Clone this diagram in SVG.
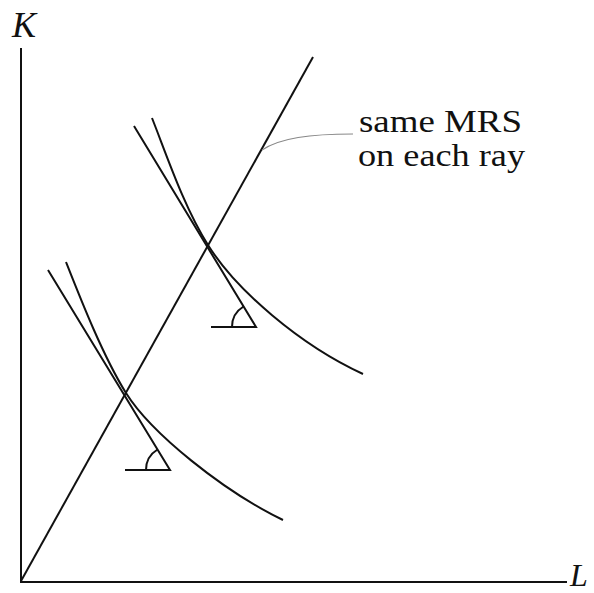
<svg xmlns="http://www.w3.org/2000/svg" width="594" height="593" viewBox="0 0 594 593">
<style>
.ln{fill:none;stroke:#111;stroke-width:2;stroke-linecap:butt}
.lead{fill:none;stroke:#888;stroke-width:1.2}
.lab{font-family:'Liberation Serif','Times New Roman',Times,serif;fill:#111}
.it{font-style:italic}
</style>
<rect width="594" height="593" fill="#fff"/>
<g id="axes">
<path class="ln" d="M21,48 V582 H567"/>
<text class="lab it" x="12" y="37" font-size="36">K</text>
<text class="lab it" x="570" y="586" font-size="32">L</text>
</g>
<g id="ray">
<path class="ln" d="M21,581 L313,57"/>
</g>
<g id="upper-isoquant">
<path class="ln" d="M152,118 C167,156 184,207 208,245 C236,290 300,345 363,374"/>
<path class="ln" d="M134,126 L256,327 H211"/>
<path class="ln" d="M232,327 A24,24 0 0 1 243.5,306.5"/>
</g>
<g id="lower-isoquant">
<path class="ln" d="M66,262 C81,300 103,356 126,393 C151,433 223,491 283,520"/>
<path class="ln" d="M48,270 L170,470 H125"/>
<path class="ln" d="M146,470 A24,24 0 0 1 157.5,449.5"/>
</g>
<g id="connectors">
<path class="lead" d="M262,150 C280,138 310,134 353,134"/>
</g>
<g id="label">
<text class="lab" x="359" y="132" font-size="32" textLength="163" lengthAdjust="spacingAndGlyphs">same MRS</text>
<text class="lab" x="358" y="166" font-size="32" textLength="167" lengthAdjust="spacingAndGlyphs">on each ray</text>
</g>
</svg>
